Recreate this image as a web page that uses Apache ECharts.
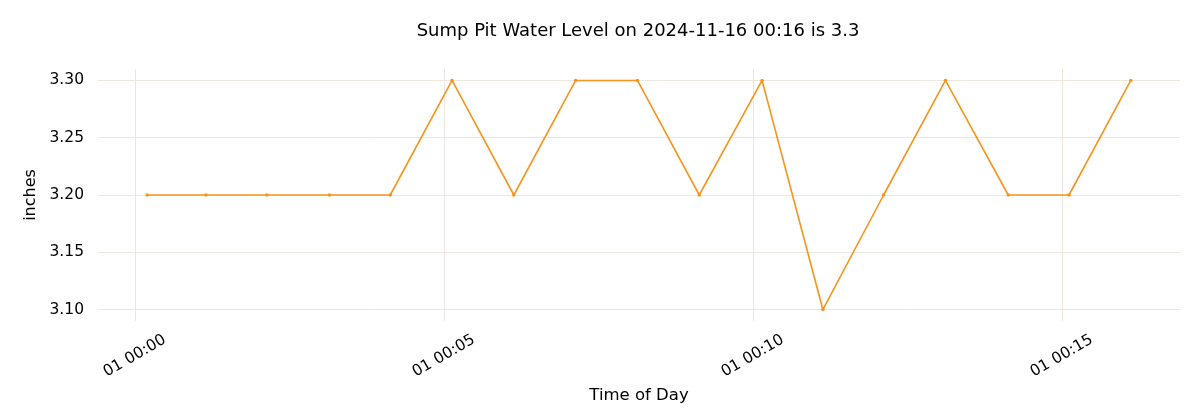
<!DOCTYPE html>
<html>
<head>
<meta charset="utf-8">
<script src="https://cdn.jsdelivr.net/npm/echarts@6/dist/echarts.min.js"></script>
<style>html,body{margin:0;padding:0;background:#fff}#c{width:1200px;height:420px}</style>
</head>
<body>
<div id="c"></div>
<script>
const titleText = 'Sump Pit Water Level on 2024-11-16 00:16 is 3.3';
const xAxisName = 'Time of Day';
const yAxisName = 'inches';
const dayLabel = '01';
const times = ['00:00:12','00:01:09','00:02:08','00:03:09','00:04:08','00:05:08','00:06:08','00:07:08','00:08:08','00:09:08','00:10:09','00:11:08','00:12:07','00:13:07','00:14:08','00:15:07','00:16:07'];
const levels = [3.2,3.2,3.2,3.2,3.2,3.3,3.2,3.3,3.3,3.2,3.3,3.1,3.2,3.3,3.2,3.2,3.3];

function toMin(t){const p=t.split(':').map(Number);return p[0]*60+p[1]+p[2]/60;}
const xs = times.map(toMin);
const data = xs.map((x,i)=>[x, levels[i]]);
const xMinD = Math.min(...xs), xMaxD = Math.max(...xs);
const xPad = (xMaxD-xMinD)*0.05;
const yMinD = Math.min(...levels), yMaxD = Math.max(...levels);
const yPad = (yMaxD-yMinD)*0.05;

function fmtX(v){
  const tot=Math.round(v);
  const h=Math.floor(tot/60), m=tot%60;
  return dayLabel+' '+String(h).padStart(2,'0')+':'+String(m).padStart(2,'0');
}
const font = 'DejaVu Sans';
const gridColor = '#efe6de';
const chart = echarts.init(document.getElementById('c'));
chart.setOption({
  animation:false,
  backgroundColor:'#fff',
  title:{text:titleText,left:633,top:17,textAlign:'center',
    textStyle:{fontFamily:font,fontSize:18,fontWeight:'normal',color:'#000'}},
  grid:{left:98,right:20,top:69,bottom:99},
  xAxis:{type:'value',min:xMinD-xPad,max:xMaxD+xPad,splitNumber:4,
    name:xAxisName,nameLocation:'middle',nameGap:66,
    nameTextStyle:{fontFamily:font,fontSize:16.5,color:'#000'},
    axisLine:{show:false},axisTick:{show:false},
    axisLabel:{showMinLabel:false,showMaxLabel:false,rotate:30,align:'center',verticalAlign:'middle',margin:35,
      fontFamily:font,fontSize:15.5,color:'#000',formatter:fmtX},
    splitLine:{show:true,showMinLine:false,showMaxLine:false,lineStyle:{color:gridColor,width:1}}},
  yAxis:{type:'value',min:yMinD-yPad,max:yMaxD+yPad,splitNumber:5,
    name:yAxisName,nameLocation:'middle',nameGap:53,nameRotate:90,
    nameTextStyle:{fontFamily:font,fontSize:16,color:'#000'},
    axisLine:{show:false},axisTick:{show:false},
    axisLabel:{showMinLabel:false,showMaxLabel:false,margin:14,fontFamily:font,fontSize:15.5,color:'#000',
      formatter:v=>v.toFixed(2)},
    splitLine:{show:true,showMinLine:false,showMaxLine:false,lineStyle:{color:gridColor,width:1}}},
  series:[{type:'line',data:data,symbol:'circle',symbolSize:3.5,showSymbol:true,
    lineStyle:{color:'#f7941d',width:1.6},itemStyle:{color:'#f7941d'}}]
});
</script>
</body>
</html>
